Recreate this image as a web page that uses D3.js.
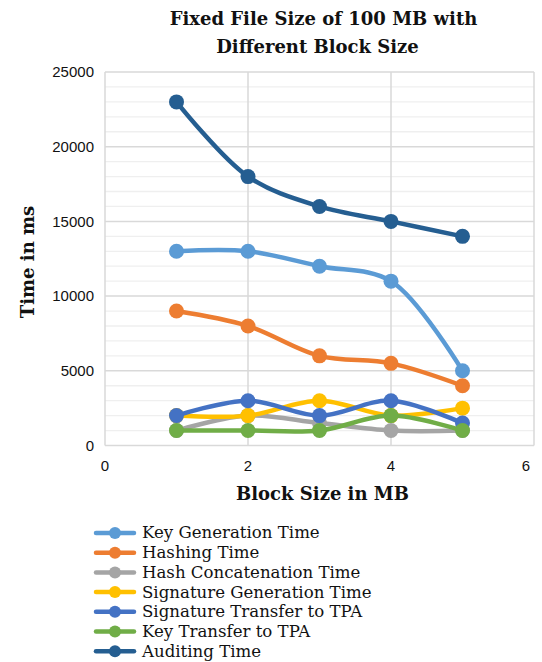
<!DOCTYPE html>
<html>
<head>
<meta charset="utf-8">
<script src="https://cdn.jsdelivr.net/npm/d3@7"></script>
<style>
  body { margin: 0; background: #fff; }
  .title, .axis-title { font-family: "DejaVu Serif", serif; font-weight: bold; fill: #111; }
  .tick-label { font-family: "Liberation Sans", Arial, sans-serif; font-size: 15px; fill: #111; }
  .legend-text { font-family: "DejaVu Serif", serif; font-size: 16.6px; fill: #111; }
</style>
</head>
<body>
<svg id="chart"></svg>
<script>
const blockSizes = [1, 2, 3, 4, 5];
const seriesNames = ["Key Generation Time", "Hashing Time", "Hash Concatenation Time",
  "Signature Generation Time", "Signature Transfer to TPA", "Key Transfer to TPA", "Auditing Time"];
const keyGeneration = [13000, 13000, 12000, 11000, 5000];
const hashing = [9000, 8000, 6000, 5500, 4000];
const hashConcat = [1000, 2000, 1500, 1000, 1000];
const signatureGen = [2000, 2000, 3000, 2000, 2500];
const signatureTransfer = [2000, 3000, 2000, 3000, 1500];
const keyTransfer = [1000, 1000, 1000, 2000, 1000];
const auditing = [23000, 18000, 16000, 15000, 14000];
const xTicks = [0, 2, 4, 6];
const yTicks = [0, 5000, 10000, 15000, 20000, 25000];

const colors = ["#5B9BD5", "#ED7D31", "#A5A5A5", "#FFC000", "#4472C4", "#70AD47", "#255E91"];
const allValues = [keyGeneration, hashing, hashConcat, signatureGen, signatureTransfer, keyTransfer, auditing];
// draw order: later series on top (like Excel)
const series = seriesNames.map((name, i) => ({ name, color: colors[i], values: allValues[i] }));

const width = 542, height = 662;
const plot = { left: 105, right: 534, top: 72, bottom: 445.5 };

let svg = d3.select("#chart").attr("width", width).attr("height", height);

const x = d3.scaleLinear().domain([0, 6]).range([plot.left, plot.right]);
const y = d3.scaleLinear().domain([0, 25000]).range([plot.bottom, plot.top]);

// minor gridlines
svg.append("g")
  .selectAll("line")
  .data(d3.range(1000, 25000, 1000).filter(v => v % 5000 !== 0))
  .enter().append("line")
  .attr("x1", plot.left).attr("x2", plot.right)
  .attr("y1", d => y(d)).attr("y2", d => y(d))
  .attr("stroke", "#efefef").attr("stroke-width", 1.3);

// major gridlines
svg.append("g")
  .selectAll("line")
  .data(yTicks)
  .enter().append("line")
  .attr("x1", plot.left).attr("x2", plot.right)
  .attr("y1", d => y(d)).attr("y2", d => y(d))
  .attr("stroke", "#d9d9d9").attr("stroke-width", 1.5);

svg.append("g")
  .selectAll("line")
  .data(xTicks)
  .enter().append("line")
  .attr("x1", d => x(d)).attr("x2", d => x(d))
  .attr("y1", plot.top).attr("y2", plot.bottom)
  .attr("stroke", "#d9d9d9").attr("stroke-width", 1.5);

// tick labels
svg.append("g")
  .selectAll("text")
  .data(yTicks)
  .enter().append("text")
  .attr("class", "tick-label")
  .attr("x", plot.left - 11)
  .attr("y", d => y(d))
  .attr("dy", "0.35em")
  .attr("text-anchor", "end")
  .text(d => d);

svg.append("g")
  .selectAll("text")
  .data(xTicks)
  .enter().append("text")
  .attr("class", "tick-label")
  .attr("x", d => d === 6 ? x(d) - 8 : x(d))
  .attr("y", plot.bottom + 20)
  .attr("dy", "0.35em")
  .attr("text-anchor", "middle")
  .text(d => d);

// titles
const cx = (plot.left + plot.right) / 2;
svg.append("text").attr("class", "title").attr("x", cx + 4).attr("y", 25)
  .attr("text-anchor", "middle").style("font-size", "18px").text("Fixed File Size of 100 MB with");
svg.append("text").attr("class", "title").attr("x", cx - 2).attr("y", 53)
  .attr("text-anchor", "middle").style("font-size", "18px").text("Different Block Size");
svg.append("text").attr("class", "axis-title").attr("x", cx + 3).attr("y", 500)
  .attr("text-anchor", "middle").style("font-size", "18px").text("Block Size in MB");
svg.append("text").attr("class", "axis-title")
  .attr("transform", "translate(34," + 262 + ") rotate(-90)")
  .attr("text-anchor", "middle").style("font-size", "18px").text("Time in ms");

// lines
const line = d3.line()
  .curve(d3.curveCatmullRom.alpha(0.5))
  .x((d, i) => x(blockSizes[i]))
  .y(d => y(d));

series.forEach(s => {
  let g = svg.append("g");
  g.append("path")
    .attr("d", line(s.values))
    .attr("fill", "none")
    .attr("stroke", s.color)
    .attr("stroke-width", 4.5)
    .attr("stroke-linecap", "round")
    .attr("stroke-linejoin", "round");
  g.selectAll("circle")
    .data(s.values)
    .enter().append("circle")
    .attr("cx", (d, i) => x(blockSizes[i]))
    .attr("cy", d => y(d))
    .attr("r", 7.5)
    .attr("fill", s.color);
});

// legend
let legend = svg.append("g");
series.forEach((s, i) => {
  let ly = 533 + i * 19.7;
  legend.append("line")
    .attr("x1", 96).attr("x2", 134)
    .attr("y1", ly).attr("y2", ly)
    .attr("stroke", s.color).attr("stroke-width", 4.5)
    .attr("stroke-linecap", "round");
  legend.append("circle")
    .attr("cx", 115).attr("cy", ly).attr("r", 6)
    .attr("fill", s.color);
  legend.append("text")
    .attr("class", "legend-text")
    .attr("x", 142).attr("y", ly)
    .attr("dy", "0.33em")
    .text(s.name);
});
</script>
</body>
</html>
